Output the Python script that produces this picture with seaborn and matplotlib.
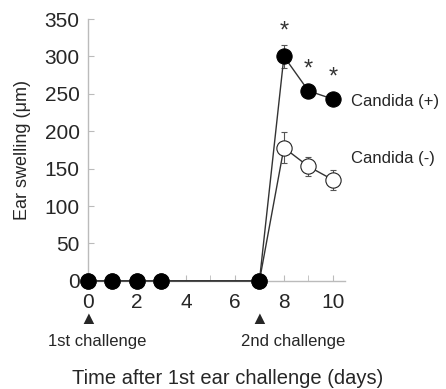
import matplotlib
matplotlib.use("Agg")
import matplotlib.pyplot as plt
import pandas as pd
import seaborn as sns

# ----------------------------------------------------------------------
# Data
# ----------------------------------------------------------------------
DAYS = [0, 1, 2, 3, 7, 8, 9, 10]
CANDIDA_POS = [0, 0, 0, 0, 0, 300, 254, 243]
CANDIDA_POS_ERR = [0, 0, 0, 0, 0, 15, 9, 6]
CANDIDA_NEG = [0, 0, 0, 0, 0, 178, 153, 135]
CANDIDA_NEG_ERR = [0, 0, 0, 0, 0, 21, 13, 13]
STAR_DAYS = [8, 9, 10]
STAR_Y = [333, 283, 272]
CHALLENGE_DAYS = [0, 7]
CHALLENGE_LABELS = ["1st challenge", "2nd challenge"]

sns.set_style("ticks")
plt.rcParams["font.family"] = ["Liberation Sans", "DejaVu Sans"]

fig = plt.figure(figsize=(4.46, 3.89), dpi=100)
ax = fig.add_axes([0.197, 0.278, 0.577, 0.673])

df_neg = pd.DataFrame({"day": DAYS, "swelling": CANDIDA_NEG})
df_pos = pd.DataFrame({"day": DAYS, "swelling": CANDIDA_POS})

# error bars (drawn first so markers sit on top)
ax.errorbar(DAYS, CANDIDA_NEG, yerr=CANDIDA_NEG_ERR, fmt="none",
            ecolor="#555555", elinewidth=0.8, capsize=2.5, capthick=0.8, zorder=2)
ax.errorbar(DAYS, CANDIDA_POS, yerr=CANDIDA_POS_ERR, fmt="none",
            ecolor="#555555", elinewidth=0.8, capsize=2.5, capthick=0.8, zorder=2)

sns.lineplot(data=df_neg, x="day", y="swelling", ax=ax, color="#333333",
             linewidth=1.0, marker="o", markersize=11, markerfacecolor="white",
             markeredgecolor="#222222", markeredgewidth=0.8, zorder=3,
             clip_on=False)
sns.lineplot(data=df_pos, x="day", y="swelling", ax=ax, color="#333333",
             linewidth=1.0, marker="o", markersize=11, markerfacecolor="black",
             markeredgecolor="black", zorder=4, clip_on=False)

for d, y in zip(STAR_DAYS, STAR_Y):
    ax.text(d, y, "*", ha="center", va="center", fontsize=17, color="#333333")

ax.text(10.75, 240, "Candida (+)", ha="left", va="center", fontsize=12,
        clip_on=False)
ax.text(10.75, 164, "Candida (-)", ha="left", va="center", fontsize=12,
        clip_on=False)

ax.set_xlim(0, 10.5)
ax.set_ylim(0, 350)
ax.set_xticks(range(0, 11, 2))
ax.set_xticks(range(0, 11), minor=True)
ax.set_yticks(range(0, 351, 50))
ax.tick_params(axis="both", direction="in", length=4, color="#bbbbbb",
               labelsize=15, pad=6)
ax.tick_params(axis="x", which="major", pad=9)
ax.tick_params(axis="x", which="minor", direction="in", length=4,
               color="#bbbbbb")
for side in ["left", "bottom"]:
    ax.spines[side].set_color("#bbbbbb")
    ax.spines[side].set_linewidth(1.0)
sns.despine(ax=ax)

ax.set_xlabel("")
ax.set_ylabel("Ear swelling (\u03bcm)", fontsize=13, labelpad=10)

# challenge markers under the x axis (label offsets differ, as in the original)
label_dx = [7, 24]
for d, lab, dx in zip(CHALLENGE_DAYS, CHALLENGE_LABELS, label_dx):
    ax.annotate("\u25b2", xy=(d, 0), xycoords="data", xytext=(0, -28),
                textcoords="offset points", ha="center", va="center",
                fontsize=13, annotation_clip=False)
    ax.annotate(lab, xy=(d, 0), xycoords="data", xytext=(dx, -44),
                textcoords="offset points", ha="center", va="center",
                fontsize=12, annotation_clip=False)

fig.text(0.51, 0.028, "Time after 1st ear challenge (days)", ha="center",
         va="center", fontsize=14.5)

fig.savefig("out.png", dpi=100)
